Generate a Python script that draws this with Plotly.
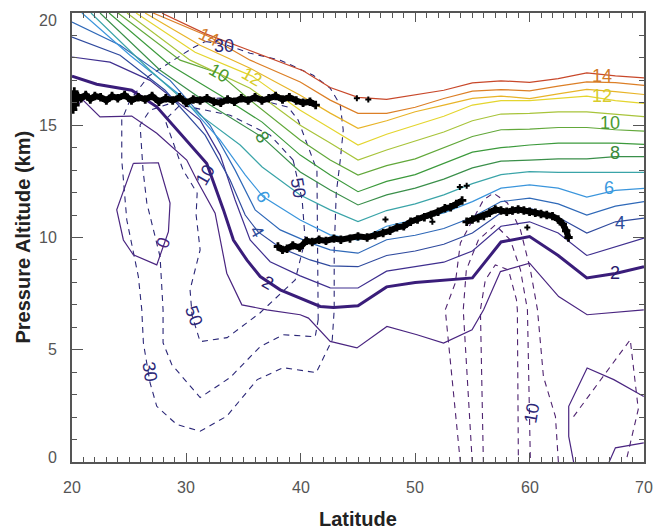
import plotly.graph_objects as go

# ---------------- data (latitude in deg, pressure altitude in km) ----------------
R_LAT = [45, 47.5, 50, 52.5, 55, 57.5, 60, 62.5, 65, 67.5, 70]

pv15_lat = [27.87, 31.64, 35.14, 40.21, 42.57] + R_LAT
pv15_alt = [19.99, 19.08, 18.41, 17.43, 16.68] + [16.24, 16.15, 16.35, 16.56, 16.89, 16.98, 16.91, 17.08, 17.33, 17.2, 17.11]
pv14_lat = [27.09, 31.96, 35.57, 39.95, 42.57] + R_LAT
pv14_alt = [20.0, 18.95, 17.9, 16.93, 16.12] + [15.53, 15.53, 15.8, 16.19, 16.52, 16.59, 16.53, 16.74, 16.93, 16.9, 16.78]
pv13_lat = [26.39, 31.2, 35.57, 39.95, 42.57] + R_LAT
pv13_alt = [20.0, 18.56, 17.54, 16.34, 15.54] + [14.86, 15.2, 15.6, 15.9, 16.2, 16.3, 16.19, 16.4, 16.6, 16.5, 16.37]
pv12_lat = [25.6, 30.76, 35.75, 39.95, 42.57] + R_LAT
pv12_alt = [20.0, 18.25, 17.19, 15.67, 14.87] + [14.12, 14.6, 15.0, 15.4, 15.9, 16.1, 16.1, 16.2, 16.3, 16.1, 15.97]
pv11_lat = [24.81, 30.32, 35.57, 39.95, 42.57] + R_LAT
pv11_alt = [20.0, 17.9, 16.65, 15.0, 14.21] + [13.45, 13.9, 14.3, 14.7, 15.2, 15.5, 15.53, 15.6, 15.6, 15.5, 15.38]
pv10_lat = [24.02, 29.45, 32.83, 35.57, 39.95, 42.57] + R_LAT
pv10_alt = [20.0, 17.9, 17.32, 16.12, 14.34, 13.45] + [12.78, 13.2, 13.5, 14.0, 14.5, 14.8, 14.83, 14.9, 14.9, 14.8, 14.74]
pv9_lat = [23.24, 28.57, 32.95, 36.62, 39.95, 42.57] + R_LAT
pv9_alt = [20.0, 17.68, 16.34, 15.14, 13.67, 12.78] + [12.04, 12.5, 12.8, 13.3, 13.8, 14.0, 14.12, 14.2, 14.2, 14.2, 14.15]
pv8_lat = [22.45, 27.7, 32.07, 36.62, 39.95, 42.57] + R_LAT
pv8_alt = [20.0, 17.45, 15.9, 14.47, 12.92, 12.12] + [11.45, 11.9, 12.2, 12.6, 13.1, 13.4, 13.45, 13.5, 13.5, 13.6, 13.6]
pv7_lat = [21.66, 26.82, 31.2, 34.7, 36.62, 39.95, 42.57] + R_LAT
pv7_alt = [20.0, 17.45, 15.45, 14.12, 13.14, 11.89, 11.23] + [10.71, 11.2, 11.5, 11.9, 12.4, 12.8, 12.93, 12.9, 12.9, 12.9, 12.9]
pv6_lat = [20.87, 25.07, 29.45, 32.95, 35.14, 36.71, 39.95, 42.57] + R_LAT
pv6_alt = [20.0, 18.12, 16.34, 14.34, 12.79, 11.81, 10.78, 10.12] + [9.88, 10.5, 10.8, 11.1, 11.6, 12.2, 12.34, 12.2, 11.8, 12.1, 12.19]
pv5_lat = [20.0, 24.2, 28.57, 32.07, 34.26, 36.01, 38.2, 40.82, 42.57] + R_LAT
pv5_alt = [19.6, 18.56, 17.0, 15.0, 13.0, 11.23, 10.34, 9.76, 9.45] + [9.3, 9.9, 10.1, 10.4, 10.9, 11.6, 11.75, 11.5, 11.0, 11.4, 11.6]
pv4_lat = [20.0, 24.2, 28.14, 31.64, 33.82, 35.14, 36.27, 38.2, 40.82, 42.57] + R_LAT
pv4_alt = [18.93, 18.12, 16.56, 14.56, 12.56, 11.0, 10.25, 9.54, 9.0, 8.74] + [8.7, 9.2, 9.4, 9.7, 10.2, 11.1, 11.3, 10.9, 10.2, 10.7, 10.86]
pv3_lat = [20.0, 23.32, 26.82, 31.2, 32.95, 34.26, 35.57, 37.32, 39.95, 42.57] + R_LAT
pv3_alt = [18.04, 17.81, 17.0, 15.23, 13.67, 11.67, 9.89, 8.92, 8.29, 7.76] + [7.75, 8.5, 8.7, 8.9, 9.4, 10.5, 10.7, 10.2, 9.2, 9.6, 9.97]
pv2_lat = [20, 22.16, 25.22, 27.41, 31.78, 32.51, 33.24, 34.11, 35.28, 36.45, 38.2, 41.7, 42.86] + R_LAT
pv2_alt = [17.19, 16.83, 16.56, 15.82, 13.3, 12.26, 11.23, 9.89, 9.0, 8.26, 7.67, 6.93, 6.88] + [6.96, 7.8, 8.0, 8.1, 8.2, 9.8, 10.04, 9.2, 8.2, 8.4, 8.7]
pv1_lat = [20, 20.96, 22.45, 25.22, 27.41, 30.03, 30.91, 32.51, 33.53, 34.85, 37.03, 39.95, 40.67, 42.57,
           44.91, 47.53, 50.16, 52.48, 54.97, 55.98, 57.45, 60.0, 62.54, 65.03, 69.98]
pv1_alt = [15.67, 16.12, 15.37, 15.41, 14.64, 13.45, 12.56, 11.08, 8.41, 7.0, 6.78, 6.56, 6.41, 5.37,
           5.08, 6.04, 5.67, 5.3, 5.89, 6.78, 8.48, 8.86, 7.37, 6.56, 6.78]
pv0_loop_lat = [25.36, 27.55, 28.57, 28.43, 27.41, 25.36, 24.49, 23.91, 25.36]
pv0_loop_alt = [13.3, 13.33, 11.53, 10.26, 8.78, 9.23, 9.89, 11.23, 13.3]
pv0_br1_lat = [63.86, 63.42, 63.42, 65.03, 67.36, 69.98]
pv0_br1_alt = [-0.04, 1.14, 2.48, 4.19, 3.67, 2.92]
pv0_br2_lat = [66.92, 67.5, 69.98]
pv0_br2_alt = [-0.04, 0.63, 0.85]

pv_levels = [1, 2, 3, 4, 5, 6, 7, 8, 9, 10, 11, 12, 13, 14, 15]
pv_colors = ["#4a2580", "#3a1d7a", "#3f2f8f", "#2f4a9e", "#2f69b8", "#3a95dc", "#3aa4a8",
             "#3a8f4a", "#3c9a3c", "#62a83a", "#a8c43a", "#e4d52e", "#e8b428", "#dc7f26", "#c8482a"]

# wind speed (dashed) contours, m/s
w30_lat = [31.66, 33.3, 35.57, 38.2, 41.08, 42.57, 43.45, 43.71, 43.45, 43.1, 42.92, 42.92, 42.75, 41.35, 38.46,
           36.19, 33.53, 31.2, 29.16, 27.41, 26.82, 26.24, 26.1, 25.8, 24.79, 24.35, 24.35, 25.07, 26.71, 28.75, 30.5, 31.66]
w30_alt = [18.73, 18.61, 18.21, 17.9, 17.23, 16.65, 15.9, 14.78, 13.45, 11.98, 9.45, 6.78, 5.45, 3.98, 4.2,
           3.67, 2.04, 1.37, 1.67, 2.48, 3.53, 5.31, 6.78, 8.26, 10.78, 13.45, 15.23, 16.12, 17.19, 17.85, 18.43, 18.73]
w50a_lat = [41.52, 41.41, 41.41, 39.77, 38.9, 36.45, 32.95, 29.45, 26.82, 25.95, 26.21, 26.54, 27.7, 27.96,
            27.96, 28.72, 31.2, 33.82, 36.45, 38.46, 41.26, 41.52]
w50a_alt = [6.34, 10.78, 13.0, 15.23, 15.81, 16.12, 16.21, 16.12, 15.67, 15.01, 13.0, 11.54, 9.14, 6.78,
            5.31, 4.34, 2.87, 3.76, 5.14, 5.67, 5.58, 6.34]
w50b_lat = [39.33, 40.12, 40.38, 39.51, 36.45, 33.56, 31.2, 30.5, 30.32, 31.2, 30.85, 30.94, 29.71, 28.14,
            29.45, 33.82, 37.32, 39.33]
w50b_alt = [13.45, 11.67, 9.89, 8.11, 6.65, 5.54, 5.36, 6.51, 7.67, 9.45, 11.0, 11.98, 13.0, 15.23,
            15.9, 15.45, 14.56, 13.45]
wp1_lat = [53.95, 52.63, 53.51, 53.95, 55.96, 56.84, 58.06, 59.2, 60.07, 60.69, 61.21, 62.26, 62.52]
wp1_alt = [-0.04, 6.78, 7.98, 9.76, 11.67, 11.98, 11.54, 10.34, 8.56, 6.78, 3.8, 2.02, -0.04]
wp2_lat = [54.99, 54.2, 54.47, 55.52, 57.0, 58.32, 59.2, 59.81, 60.07]
wp2_alt = [-0.04, 6.78, 8.56, 9.89, 10.56, 9.89, 8.56, 6.78, -0.04]
wp3_lat = [55.96, 55.7, 56.13, 57.0, 58.15, 58.85, 58.93, 59.02]
wp3_alt = [-0.04, 6.78, 8.11, 8.78, 8.56, 7.23, 6.78, -0.04]
wp4_lat = [63.84, 68.8, 69.5, 68.4]
wp4_alt = [2.02, 5.45, 2.35, -0.04]

# tropopause points
tpa_lat = [20.0, 20.1, 20.2, 20.3, 20.5, 20.8, 21.2, 21.6, 22.0, 22.5, 23.0, 23.5, 24.0, 24.6, 25.2, 25.8, 26.4,
           27.0, 27.6, 28.2, 28.8, 29.4, 30.0, 30.6, 31.2, 31.8, 32.4, 33.0, 33.6, 34.2, 34.8, 35.4, 36.0,
           36.6, 37.2, 37.8, 38.4, 39.0, 39.6, 40.2, 40.8, 41.3]
tpa_alt = [16.3, 15.7, 16.5, 15.9, 16.3, 16.2, 16.35, 16.15, 16.3, 16.25, 16.1, 16.3, 16.2, 16.35, 16.1, 16.25, 16.15,
           16.3, 16.05, 16.2, 16.1, 16.25, 16.0, 16.15, 16.1, 16.2, 16.05, 16.0, 16.15, 16.05, 16.2, 16.1, 16.25,
           16.1, 16.2, 16.3, 16.15, 16.25, 16.1, 16.0, 16.05, 15.9]
tpb_lat = [38.0, 38.4, 38.8, 39.3, 39.9, 40.5, 41.0, 41.6, 42.2, 42.9, 43.5, 44.3, 45.0, 45.8, 46.5, 47.2,
           47.8, 48.4, 49.0, 49.6, 50.2, 50.8, 51.4, 52.0, 52.6, 53.1, 53.6, 54.1]
tpb_alt = [9.6, 9.45, 9.5, 9.65, 9.55, 9.85, 9.8, 9.9, 9.85, 9.95, 9.9, 9.95, 10.05, 10.0, 10.1, 10.2,
           10.3, 10.45, 10.5, 10.7, 10.8, 10.9, 11.0, 11.15, 11.3, 11.35, 11.5, 11.65]
tpc_lat = [54.5, 55.0, 55.5, 56.0, 56.5, 57.0, 57.5, 58.0, 58.5, 59.0, 59.5, 60.0, 60.5, 61.0, 61.5, 62.0,
           62.5, 62.9, 63.2, 63.4]
tpc_alt = [10.7, 10.8, 10.85, 10.95, 11.1, 11.25, 11.2, 11.15, 11.2, 11.25, 11.2, 11.15, 11.1, 11.05, 11.0, 10.95,
           10.8, 10.6, 10.3, 10.0]
tps_lat = [44.9, 45.9, 47.4, 51.5, 53.9, 54.5, 59.8]
tps_alt = [16.2, 16.15, 10.8, 10.7, 12.25, 12.3, 10.45]

pv_label_text = ["14", "12", "10", "8", "6", "4", "2", "14", "10", "12", "8", "6", "4", "2", "0"]
pv_label_lat = [66.34, 66.34, 67.07, 67.5, 66.92, 67.94, 67.5, 31.96, 32.83, 35.75, 36.62, 36.71, 36.2, 37.15, 27.96]
pv_label_alt = [17.2, 16.3, 15.08, 13.75, 12.19, 10.64, 8.41, 18.95, 17.32, 17.17, 14.47, 11.81, 10.25, 7.98, 9.77]
pv_label_color = ["#d27a28", "#d8cc2a", "#4a9a30", "#3a8a3a", "#3a9ae0", "#2e4c9a", "#2a1a6e",
                  "#d27a28", "#4a9a30", "#d8cc2a", "#3a8a3a", "#3a9ae0", "#2e4c9a", "#2a1a6e", "#4a2580"]
pv_label_angle = [0, 0, 0, 0, 0, 0, 0, 25, 30, 30, 60, 60, 60, 30, -70]

w_label_text = ["30", "10", "50", "50", "30", "10"]
w_label_lat = [33.3, 31.64, 39.77, 30.67, 26.82, 60.16]
w_label_alt = [18.52, 12.79, 12.2, 6.51, 4.02, 2.2]
w_label_angle = [0, -60, 80, 70, 80, -80]

x_ticks = [20, 30, 40, 50, 60, 70]
y_ticks = [0, 5, 10, 15, 20]

# ---------------- figure ----------------
fig = go.Figure()

def add_line(lat, alt, color, width=1.3, dash=None):
    fig.add_trace(go.Scatter(x=lat, y=alt, mode="lines",
                             line=dict(color=color, width=width, dash=dash),
                             hoverinfo="skip", showlegend=False))

pv_data = {1: (pv1_lat, pv1_alt), 2: (pv2_lat, pv2_alt), 3: (pv3_lat, pv3_alt), 4: (pv4_lat, pv4_alt),
           5: (pv5_lat, pv5_alt), 6: (pv6_lat, pv6_alt), 7: (pv7_lat, pv7_alt), 8: (pv8_lat, pv8_alt),
           9: (pv9_lat, pv9_alt), 10: (pv10_lat, pv10_alt), 11: (pv11_lat, pv11_alt), 12: (pv12_lat, pv12_alt),
           13: (pv13_lat, pv13_alt), 14: (pv14_lat, pv14_alt), 15: (pv15_lat, pv15_alt)}

DASH = "6px,5px"
WCOL = "#2c2878"
PCOL = "#4f2370"
for la, al in [(w30_lat, w30_alt), (w50a_lat, w50a_alt), (w50b_lat, w50b_alt)]:
    add_line(la, al, WCOL, 1.1, DASH)
for la, al in [(wp1_lat, wp1_alt), (wp2_lat, wp2_alt), (wp3_lat, wp3_alt), (wp4_lat, wp4_alt)]:
    add_line(la, al, PCOL, 1.1, DASH)

for lev, col in zip(pv_levels, pv_colors):
    la, al = pv_data[lev]
    add_line(la, al, col, 3.0 if lev == 2 else 1.2)
for la, al in [(pv0_loop_lat, pv0_loop_alt), (pv0_br1_lat, pv0_br1_alt), (pv0_br2_lat, pv0_br2_alt)]:
    add_line(la, al, pv_colors[0], 1.2)

for la, al in [(tpa_lat, tpa_alt), (tpb_lat, tpb_alt), (tpc_lat, tpc_alt)]:
    fig.add_trace(go.Scatter(x=la, y=al, mode="lines+markers",
                             line=dict(color="black", width=6),
                             marker=dict(symbol="cross", size=7, color="black"),
                             hoverinfo="skip", showlegend=False))
fig.add_trace(go.Scatter(x=tps_lat, y=tps_alt, mode="markers",
                         marker=dict(symbol="cross", size=5, color="black"),
                         hoverinfo="skip", showlegend=False))

FONT = "Liberation Sans, Arial"
for t, la, al, col, ang in zip(pv_label_text, pv_label_lat, pv_label_alt, pv_label_color, pv_label_angle):
    fig.add_annotation(x=la, y=al, text=t, showarrow=False, textangle=ang,
                       font=dict(family=FONT, size=18, color=col))
for t, la, al, ang in zip(w_label_text, w_label_lat, w_label_alt, w_label_angle):
    fig.add_annotation(x=la, y=al, text=t, showarrow=False, textangle=ang,
                       font=dict(family=FONT, size=18, color=WCOL))

# tick labels (annotations, IDL-like placement)
TICKC = "#555555"
for v in y_ticks:
    shift = 0
    if v == 20:
        shift = -7
    elif v == 0:
        shift = 5
    fig.add_annotation(x=0, xref="paper", xanchor="right", xshift=-13, y=v, yshift=shift, text=str(v),
                       showarrow=False, font=dict(family=FONT, size=16, color=TICKC))
for v in x_ticks:
    fig.add_annotation(x=v, y=0, yref="paper", yanchor="middle", yshift=-25, text=str(v),
                       showarrow=False, font=dict(family=FONT, size=16, color=TICKC))
fig.add_annotation(x=0.5, xref="paper", y=0, yref="paper", yshift=-57, yanchor="middle",
                   text="<b>Latitude</b>", showarrow=False,
                   font=dict(family=FONT, size=20, color="#222222"))
fig.add_annotation(x=0, xref="paper", xshift=-50, y=0.5, yref="paper", xanchor="center",
                   text="<b>Pressure Altitude (km)</b>", textangle=-90, showarrow=False,
                   font=dict(family=FONT, size=20, color="#222222"))

fig.update_xaxes(range=[20, 70], tickvals=x_ticks, ticks="inside", ticklen=9, tickwidth=1.2,
                 tickcolor=TICKC, showline=True, linecolor=TICKC, linewidth=1.6, mirror="allticks",
                 showgrid=False, zeroline=False, showticklabels=False, automargin=False,
                 minor=dict(dtick=1, ticks="inside", ticklen=5, tickcolor=TICKC, tickwidth=1, showgrid=False))
fig.update_yaxes(range=[0, 20], tickvals=y_ticks, ticks="inside", ticklen=11, tickwidth=1.2,
                 tickcolor=TICKC, showline=True, linecolor=TICKC, linewidth=1.6, mirror="allticks",
                 showgrid=False, zeroline=False, showticklabels=False, automargin=False,
                 minor=dict(dtick=1, ticks="inside", ticklen=5, tickcolor=TICKC, tickwidth=1, showgrid=False))

fig.update_layout(width=654, height=529, margin=dict(l=72, r=10, t=13, b=67, autoexpand=False),
                  plot_bgcolor="white", paper_bgcolor="white")

fig.write_html("out.html")
